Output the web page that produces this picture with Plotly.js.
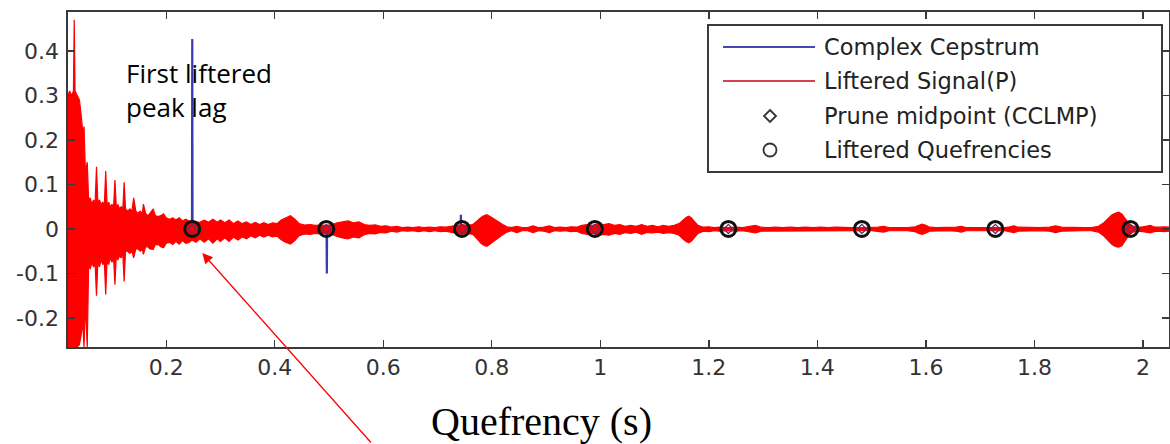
<!DOCTYPE html>
<html><head><meta charset="utf-8">
<script src="https://cdn.plot.ly/plotly-3.0.1.min.js"></script>
<style>html,body{margin:0;padding:0;background:#fff;overflow:hidden;} #chart{width:1170px;height:444px;}</style>
</head><body><div id="chart"></div>
<script>
// ---------------- data ----------------
const xTickVals = [0.2, 0.4, 0.6, 0.8, 1, 1.2, 1.4, 1.6, 1.8, 2];
const xTickText = ["0.2", "0.4", "0.6", "0.8", "1", "1.2", "1.4", "1.6", "1.8", "2"];
const yTickVals = [-0.2, -0.1, 0, 0.1, 0.2, 0.3, 0.4];
const yTickText = ["-0.2", "-0.1", "0", "0.1", "0.2", "0.3", "0.4"];

// Complex cepstrum (blue): flat with spikes
const cepX = [0.019, 0.2475, 0.248, 0.2485, 0.4955, 0.496, 0.4965, 0.7425, 0.743, 0.7435, 2.048];
const cepY = [0, 0, 0.427, 0, 0, -0.100, 0, 0, 0.032, 0, 0];

// Liftered signal (red): upper / lower envelope of the dense oscillation
const liftX = [0.019,0.022,0.026,0.029,0.0305,0.032,0.036,0.040,0.043,0.046,0.0485,0.051,0.0545,0.057,0.060,0.063,0.066,0.069,0.0715,0.074,0.077,0.080,0.083,0.086,0.0885,0.091,0.094,0.097,0.100,0.103,0.1055,0.108,0.111,0.114,0.117,0.120,0.1225,0.125,0.129,0.133,0.137,0.140,0.144,0.148,0.152,0.156,0.158,0.162,0.166,0.170,0.176,0.180,0.185,0.190,0.195,0.200,0.206,0.212,0.218,0.224,0.230,0.236,0.242,0.248,0.255,0.262,0.270,0.278,0.286,0.294,0.300,0.308,0.316,0.324,0.332,0.340,0.348,0.356,0.364,0.372,0.380,0.388,0.396,0.404,0.412,0.420,0.429,0.437,0.445,0.455,0.465,0.475,0.485,0.496,0.505,0.515,0.525,0.535,0.545,0.555,0.565,0.575,0.585,0.595,0.605,0.615,0.625,0.635,0.645,0.655,0.665,0.675,0.685,0.695,0.705,0.715,0.725,0.735,0.745,0.755,0.765,0.773,0.780,0.786,0.791,0.797,0.804,0.812,0.820,0.828,0.836,0.846,0.856,0.866,0.876,0.886,0.896,0.906,0.916,0.926,0.936,0.946,0.956,0.966,0.976,0.986,0.996,1.006,1.016,1.026,1.036,1.046,1.056,1.066,1.076,1.086,1.096,1.106,1.116,1.126,1.136,1.145,1.152,1.158,1.163,1.168,1.174,1.180,1.190,1.200,1.210,1.220,1.236,1.250,1.262,1.274,1.286,1.296,1.310,1.322,1.336,1.350,1.364,1.378,1.392,1.406,1.420,1.434,1.448,1.462,1.482,1.500,1.512,1.522,1.532,1.550,1.566,1.580,1.587,1.593,1.600,1.607,1.620,1.640,1.656,1.665,1.674,1.690,1.710,1.728,1.745,1.755,1.762,1.770,1.790,1.810,1.828,1.839,1.850,1.870,1.890,1.905,1.918,1.928,1.936,1.943,1.950,1.955,1.961,1.967,1.973,1.980,1.990,2.000,2.008,2.014,2.020,2.030,2.040,2.048];
const liftUpper = [0.30,0.31,0.30,0.31,0.47,0.31,0.30,0.29,0.26,0.22,0.23,0.13,0.15,0.065,0.07,0.055,0.065,0.06,0.14,0.06,0.065,0.055,0.06,0.055,0.13,0.055,0.06,0.05,0.055,0.05,0.11,0.05,0.055,0.045,0.05,0.045,0.105,0.045,0.04,0.045,0.04,0.07,0.04,0.035,0.04,0.035,0.056,0.035,0.03,0.035,0.045,0.03,0.028,0.03,0.034,0.025,0.022,0.025,0.02,0.025,0.018,0.022,0.018,0.02,0.016,0.015,0.02,0.015,0.022,0.015,0.02,0.014,0.02,0.012,0.018,0.012,0.016,0.01,0.015,0.01,0.014,0.01,0.014,0.012,0.02,0.025,0.03,0.022,0.012,0.009,0.01,0.008,0.009,0.008,0.01,0.014,0.016,0.018,0.014,0.016,0.01,0.008,0.009,0.006,0.007,0.004,0.006,0.003,0.004,0.003,0.005,0.003,0.004,0.003,0.005,0.004,0.006,0.008,0.01,0.008,0.01,0.018,0.026,0.03,0.032,0.028,0.022,0.016,0.01,0.005,0.003,0.006,0.003,0.003,0.007,0.003,0.004,0.007,0.003,0.004,0.003,0.005,0.004,0.008,0.01,0.008,0.012,0.01,0.012,0.008,0.01,0.006,0.008,0.006,0.01,0.006,0.008,0.005,0.008,0.006,0.008,0.012,0.02,0.026,0.029,0.025,0.016,0.008,0.004,0.005,0.003,0.004,0.003,0.004,0.003,0.005,0.008,0.004,0.003,0.004,0.003,0.004,0.003,0.004,0.003,0.004,0.003,0.004,0.003,0.003,0.003,0.003,0.004,0.006,0.003,0.003,0.003,0.005,0.009,0.011,0.008,0.004,0.003,0.003,0.004,0.006,0.003,0.003,0.003,0.003,0.003,0.005,0.007,0.004,0.003,0.003,0.004,0.007,0.004,0.003,0.003,0.003,0.006,0.014,0.024,0.032,0.036,0.038,0.034,0.024,0.014,0.007,0.004,0.005,0.006,0.008,0.005,0.004,0.005,0.004];
const liftLower = [-0.265,-0.265,-0.265,-0.265,-0.265,-0.265,-0.265,-0.26,-0.24,-0.21,-0.265,-0.17,-0.265,-0.08,-0.09,-0.075,-0.085,-0.08,-0.15,-0.075,-0.085,-0.07,-0.08,-0.075,-0.147,-0.07,-0.08,-0.065,-0.075,-0.065,-0.125,-0.06,-0.07,-0.06,-0.065,-0.055,-0.118,-0.05,-0.05,-0.055,-0.05,-0.065,-0.045,-0.045,-0.05,-0.045,-0.057,-0.04,-0.04,-0.045,-0.046,-0.035,-0.035,-0.04,-0.042,-0.032,-0.03,-0.035,-0.028,-0.034,-0.026,-0.032,-0.03,-0.025,-0.03,-0.022,-0.03,-0.022,-0.032,-0.022,-0.028,-0.02,-0.028,-0.018,-0.025,-0.018,-0.022,-0.015,-0.02,-0.014,-0.018,-0.014,-0.018,-0.016,-0.024,-0.03,-0.034,-0.026,-0.015,-0.011,-0.012,-0.01,-0.011,-0.01,-0.012,-0.017,-0.02,-0.022,-0.018,-0.02,-0.013,-0.01,-0.011,-0.008,-0.009,-0.005,-0.007,-0.004,-0.005,-0.004,-0.006,-0.004,-0.006,-0.004,-0.006,-0.005,-0.008,-0.01,-0.012,-0.01,-0.012,-0.022,-0.032,-0.037,-0.039,-0.035,-0.028,-0.02,-0.013,-0.007,-0.004,-0.008,-0.004,-0.004,-0.008,-0.004,-0.005,-0.008,-0.004,-0.005,-0.004,-0.006,-0.005,-0.01,-0.012,-0.01,-0.014,-0.012,-0.014,-0.01,-0.012,-0.008,-0.01,-0.007,-0.012,-0.008,-0.009,-0.007,-0.01,-0.008,-0.01,-0.014,-0.022,-0.028,-0.031,-0.027,-0.018,-0.01,-0.005,-0.006,-0.004,-0.005,-0.004,-0.005,-0.004,-0.006,-0.009,-0.005,-0.004,-0.005,-0.004,-0.005,-0.004,-0.005,-0.004,-0.005,-0.004,-0.005,-0.004,-0.004,-0.004,-0.004,-0.005,-0.007,-0.004,-0.004,-0.004,-0.006,-0.01,-0.012,-0.009,-0.005,-0.004,-0.004,-0.005,-0.007,-0.004,-0.004,-0.004,-0.004,-0.004,-0.006,-0.008,-0.005,-0.004,-0.004,-0.005,-0.008,-0.005,-0.004,-0.004,-0.004,-0.007,-0.016,-0.027,-0.035,-0.04,-0.041,-0.038,-0.028,-0.016,-0.008,-0.005,-0.006,-0.007,-0.009,-0.006,-0.005,-0.006,-0.005];

// Prune midpoints (diamonds) and liftered quefrencies (circles)
const pruneX = [0.248, 0.495, 0.745, 0.990, 1.236, 1.482, 1.728, 1.977];
const pruneY = [0, 0, 0, 0, 0, 0, 0, 0];
const quefX = [0.248, 0.495, 0.745, 0.990, 1.236, 1.482, 1.728, 1.977];
const quefY = [0, 0, 0, 0, 0, 0, 0, 0];

const legendLabels = ["Complex Cepstrum", "Liftered Signal(P)", "Prune midpoint (CCLMP)", "Liftered Quefrencies"];
const axisTitle = "Quefrency (s)";
const calloutText = "First liftered<br>peak lag";

// ---------------- layout helpers ----------------
const W = 1170, H = 444;
const M = {l: 68, r: 1, t: 12, b: 97};
const PW = W - M.l - M.r, PH = H - M.t - M.b;
const px = v => (v - M.l) / PW;          // pixel x -> paper x
const py = v => (H - M.b - v) / PH;      // pixel y -> paper y

const polyX = liftX.concat(liftX.slice().reverse());
const polyY = liftUpper.concat(liftLower.slice().reverse());

const traces = [
  {x: cepX, y: cepY, type: 'scatter', mode: 'lines', name: legendLabels[0],
   line: {color: '#3a3ab0', width: 2.2}, showlegend: false, hoverinfo: 'skip'},
  {x: polyX, y: polyY, type: 'scatter', mode: 'lines', name: legendLabels[1],
   fill: 'toself', fillcolor: '#ff0000', line: {color: '#ff0000', width: 1.2},
   showlegend: false, hoverinfo: 'skip'},
  {x: pruneX, y: pruneY, type: 'scatter', mode: 'markers', name: legendLabels[2],
   marker: {symbol: 'diamond-open', size: 7, color: '#6a2a6a', line: {width: 1.2, color: '#6a2a6a'}},
   showlegend: false, hoverinfo: 'skip'},
  {x: quefX, y: quefY, type: 'scatter', mode: 'markers', name: legendLabels[3],
   marker: {symbol: 'circle-open', size: 15, color: '#111', line: {width: 3, color: '#111'}},
   showlegend: false, hoverinfo: 'skip'}
];

// manual legend (box, samples, labels)
const rowsY = [47, 81, 116, 150];
const shapes = [
  {type: 'rect', xref: 'paper', yref: 'paper', x0: px(708), x1: px(1162), y0: py(172), y1: py(25),
   line: {color: '#3a3a3a', width: 2}, fillcolor: '#ffffff', layer: 'above'},
  {type: 'line', xref: 'paper', yref: 'paper', x0: px(723), x1: px(815), y0: py(rowsY[0]), y1: py(rowsY[0]),
   line: {color: '#4646b4', width: 2}, layer: 'above'},
  {type: 'line', xref: 'paper', yref: 'paper', x0: px(723), x1: px(815), y0: py(rowsY[1]), y1: py(rowsY[1]),
   line: {color: '#d4404e', width: 2}, layer: 'above'},
  {type: 'path', xref: 'paper', yref: 'paper', layer: 'above',
   path: `M ${px(770)} ${py(rowsY[2]-6)} L ${px(776)} ${py(rowsY[2])} L ${px(770)} ${py(rowsY[2]+6)} L ${px(764)} ${py(rowsY[2])} Z`,
   line: {color: '#333', width: 1.8}},
  {type: 'circle', xref: 'paper', yref: 'paper', layer: 'above',
   x0: px(763.5), x1: px(776.5), y0: py(rowsY[3]+6.5), y1: py(rowsY[3]-6.5),
   line: {color: '#333', width: 1.8}}
];

const annotations = legendLabels.map((t, i) => ({
  xref: 'paper', yref: 'paper', x: px(822), y: py(rowsY[i]), xanchor: 'left', yanchor: 'middle',
  text: t, showarrow: false, font: {family: 'DejaVu Sans', size: 22.5, color: '#222'}
}));
annotations.push({
  xref: 'paper', yref: 'paper', x: px(124), y: py(53), xanchor: 'left', yanchor: 'top', align: 'left',
  text: calloutText, showarrow: false, font: {family: 'Open Sans', size: 26, color: '#000'}
});
annotations.push({
  xref: 'paper', yref: 'paper', x: px(541), y: py(421), xanchor: 'center', yanchor: 'middle',
  text: axisTitle, showarrow: false, font: {family: 'Liberation Serif', size: 40, color: '#000'}
});
annotations.push({
  xref: 'x', yref: 'y', x: 0.2665, y: -0.054, ax: 170, ay: 193, text: '',
  showarrow: true, arrowhead: 2, arrowsize: 1.6, arrowwidth: 1.3, arrowcolor: '#ff0000', standoff: 0
});

const axisCommon = {
  showline: true, linecolor: '#3a3a3a', linewidth: 1.6, mirror: 'ticks',
  ticks: 'inside', ticklen: 7, tickwidth: 1.4, tickcolor: '#3a3a3a',
  showgrid: false, zeroline: false, tickmode: 'array',
  tickfont: {family: 'DejaVu Sans', size: 22, color: '#333'}
};

const layout = {
  width: W, height: H, margin: M, paper_bgcolor: '#fff', plot_bgcolor: '#fff',
  showlegend: false,
  xaxis: Object.assign({}, axisCommon, {range: [0.019, 2.048], tickvals: xTickVals, ticktext: xTickText, ticklabelstandoff: 0}),
  yaxis: Object.assign({}, axisCommon, {range: [-0.2652, 0.4876], tickvals: yTickVals, ticktext: yTickText, ticklabelstandoff: 3}),
  shapes: shapes, annotations: annotations
};

Plotly.newPlot('chart', traces, layout, {staticPlot: true, displayModeBar: false});
</script>
</body></html>
